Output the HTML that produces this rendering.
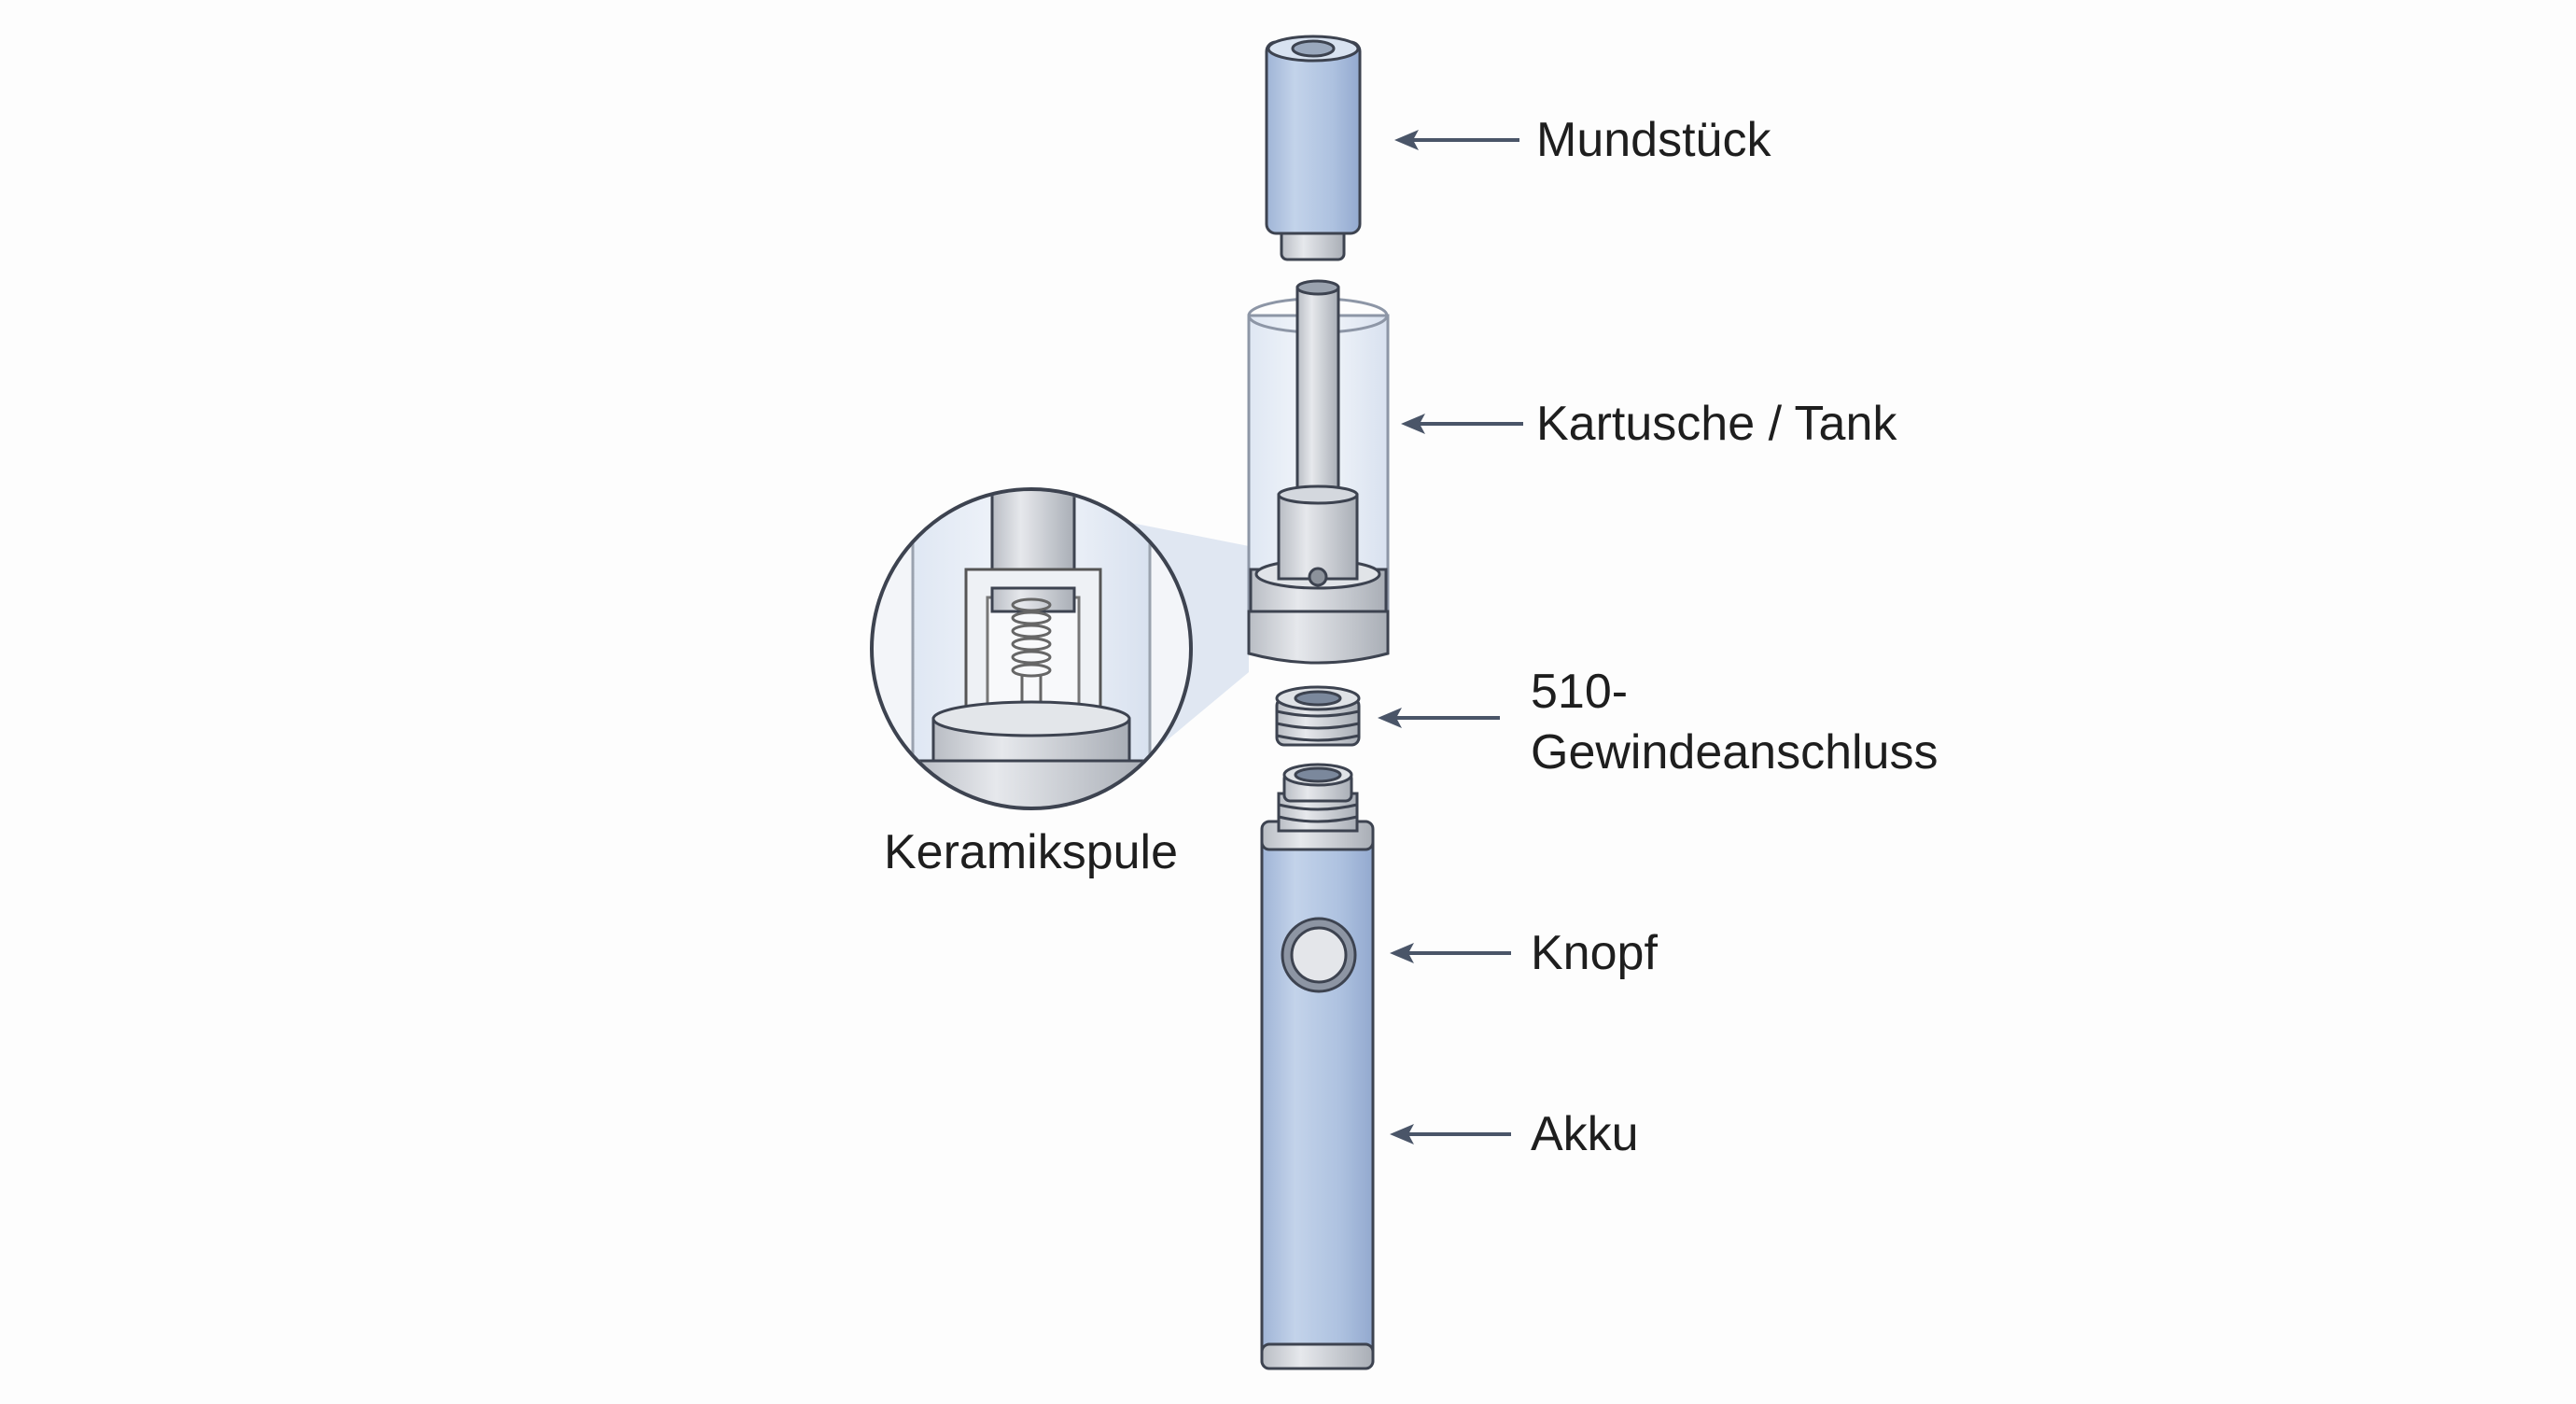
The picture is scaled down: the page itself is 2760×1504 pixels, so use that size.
<!DOCTYPE html>
<html><head><meta charset="utf-8"><style>
html,body{margin:0;padding:0;background:#fdfdfd;}
svg{display:block}
text{font-family:"Liberation Sans",sans-serif;fill:#1e1e1e;font-size:52px}
</style></head><body>
<svg width="2760" height="1504" viewBox="0 0 2760 1504" xmlns="http://www.w3.org/2000/svg">
<defs>
<linearGradient id="blue" x1="0" x2="1"><stop offset="0" stop-color="#9fb4d6"/><stop offset="0.3" stop-color="#c3d3ea"/><stop offset="0.7" stop-color="#aec2e0"/><stop offset="1" stop-color="#93a9cf"/></linearGradient>
<linearGradient id="grey" x1="0" x2="1"><stop offset="0" stop-color="#b9bdc4"/><stop offset="0.35" stop-color="#e6e8ec"/><stop offset="1" stop-color="#a9aeb6"/></linearGradient>
<linearGradient id="glass" x1="0" x2="1"><stop offset="0" stop-color="#dfe7f3"/><stop offset="0.5" stop-color="#f4f7fb"/><stop offset="1" stop-color="#d8e1ef"/></linearGradient>
<clipPath id="mag"><circle cx="1105" cy="695" r="169"/></clipPath>
</defs>
<g stroke="#3d4350" stroke-width="3">
<polygon points="1060,530 1338,585 1338,720 1200,835" fill="#c9d6ea" opacity="0.55" stroke="none"/>
<circle cx="1105" cy="695" r="171" fill="#f3f5f9"/>
<g clip-path="url(#mag)">
<rect x="978" y="500" width="254" height="400" fill="url(#glass)" stroke="#9aa2ae"/>
<rect x="1063" y="520" width="88" height="130" fill="url(#grey)"/>
<rect x="1035" y="610" width="144" height="180" fill="#eef1f5" stroke="#555"/>
<rect x="1058" y="640" width="98" height="150" fill="#f8f9fb" stroke="#777"/>
<rect x="1063" y="630" width="88" height="25" fill="url(#grey)"/>
<g fill="none" stroke="#666" stroke-width="3">
<ellipse cx="1105" cy="648" rx="20" ry="6"/><ellipse cx="1105" cy="662" rx="20" ry="6"/><ellipse cx="1105" cy="676" rx="20" ry="6"/><ellipse cx="1105" cy="690" rx="20" ry="6"/><ellipse cx="1105" cy="704" rx="20" ry="6"/><ellipse cx="1105" cy="718" rx="20" ry="6"/>
<line x1="1095" y1="722" x2="1095" y2="790"/><line x1="1115" y1="722" x2="1115" y2="790"/>
</g>
<rect x="1000" y="770" width="210" height="45" fill="url(#grey)"/>
<ellipse cx="1105" cy="770" rx="105" ry="18" fill="#e3e6ea"/>
<rect x="978" y="815" width="254" height="100" fill="url(#grey)"/>
</g>
<circle cx="1105" cy="695" r="171" fill="none" stroke-width="4"/>

<rect x="1373" y="240" width="67" height="38" rx="6" fill="url(#grey)"/>
<rect x="1357" y="45" width="100" height="205" rx="10" fill="url(#blue)"/>
<ellipse cx="1407" cy="52" rx="48" ry="13" fill="#d8e2f0"/>
<ellipse cx="1407" cy="52" rx="22" ry="8" fill="#9aa8bd"/>

<rect x="1338" y="338" width="149" height="320" fill="url(#glass)" stroke="#8d96a6"/>
<ellipse cx="1412" cy="338" rx="74" ry="18" fill="none" stroke="#8d96a6"/>
<rect x="1390" y="308" width="44" height="230" fill="url(#grey)"/>
<ellipse cx="1412" cy="308" rx="22" ry="7" fill="#9aa2ae"/>
<rect x="1340" y="610" width="145" height="50" fill="url(#grey)"/>
<ellipse cx="1412" cy="615" rx="66" ry="15" fill="#e1e4e8"/>
<rect x="1370" y="530" width="84" height="90" fill="url(#grey)"/>
<ellipse cx="1412" cy="530" rx="42" ry="9" fill="#d4d8de"/>
<circle cx="1412" cy="618" r="9" fill="#8c929b"/>
<path d="M1338 655 L1338 700 Q1412 720 1487 700 L1487 655 Z" fill="url(#grey)"/>

<rect x="1368" y="748" width="88" height="50" rx="8" fill="url(#grey)"/>
<g fill="none" stroke-width="3"><path d="M1368 762 Q1412 772 1456 762"/><path d="M1368 775 Q1412 785 1456 775"/><path d="M1368 788 Q1412 798 1456 788"/></g>
<ellipse cx="1412" cy="748" rx="44" ry="12" fill="#dfe2e6"/>
<ellipse cx="1412" cy="748" rx="24" ry="7" fill="#7b889c"/>

<rect x="1352" y="890" width="119" height="575" rx="8" fill="url(#blue)"/>
<rect x="1352" y="1440" width="119" height="26" rx="8" fill="url(#grey)"/>
<rect x="1352" y="880" width="119" height="30" rx="8" fill="url(#grey)"/>
<rect x="1370" y="850" width="84" height="40" fill="url(#grey)"/>
<g fill="none"><path d="M1370 862 Q1412 872 1454 862"/><path d="M1370 875 Q1412 885 1454 875"/></g>
<rect x="1376" y="828" width="72" height="30" rx="6" fill="url(#grey)"/>
<ellipse cx="1412" cy="830" rx="36" ry="11" fill="#dfe2e6"/>
<ellipse cx="1412" cy="830" rx="24" ry="7" fill="#7b889c"/>
<circle cx="1413" cy="1023" r="39" fill="#8d95a3"/>
<circle cx="1413" cy="1023" r="29" fill="#e4e6ea"/>
</g>

<g stroke="#4a5568" stroke-width="4" fill="#4a5568">
<line x1="1628" y1="150" x2="1510" y2="150"/><polygon points="1494,150 1520,139 1514,150 1520,161" stroke="none"/>
<line x1="1632" y1="454" x2="1517" y2="454"/><polygon points="1501,454 1527,443 1521,454 1527,465" stroke="none"/>
<line x1="1607" y1="769" x2="1492" y2="769"/><polygon points="1476,769 1502,758 1496,769 1502,780" stroke="none"/>
<line x1="1619" y1="1021" x2="1505" y2="1021"/><polygon points="1489,1021 1515,1010 1509,1021 1515,1032" stroke="none"/>
<line x1="1619" y1="1215" x2="1505" y2="1215"/><polygon points="1489,1215 1515,1204 1509,1215 1515,1226" stroke="none"/>
</g>

<text x="1646" y="167">Mundstück</text>
<text x="1646" y="471">Kartusche / Tank</text>
<text x="1640" y="758">510-</text>
<text x="1640" y="823">Gewindeanschluss</text>
<text x="1640" y="1038">Knopf</text>
<text x="1640" y="1232">Akku</text>
<text x="947" y="930">Keramikspule</text>
</svg>
</body></html>
